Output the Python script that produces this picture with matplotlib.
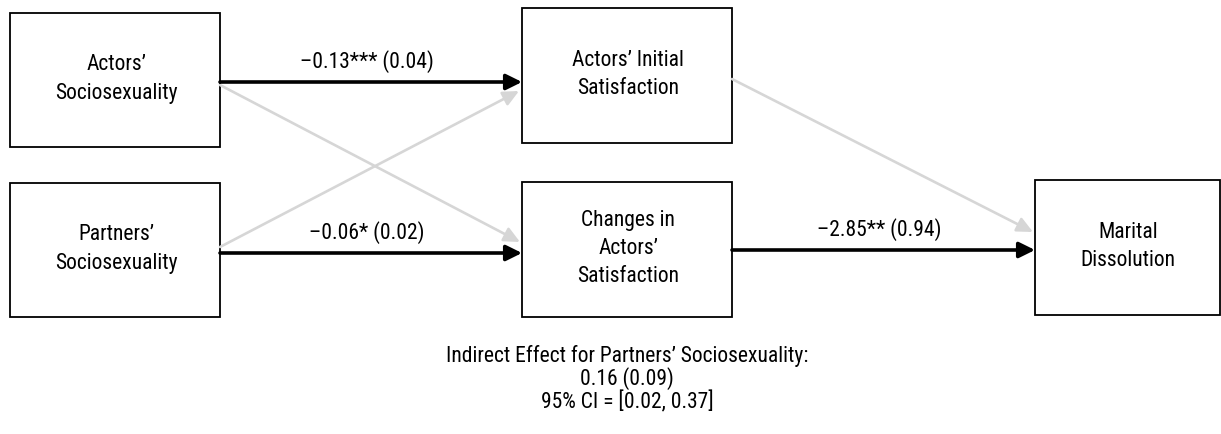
import matplotlib
matplotlib.use("Agg")
import matplotlib.pyplot as plt
from matplotlib.patches import Rectangle

# node labels
nodes = ["Actors’\nSociosexuality",
         "Partners’\nSociosexuality",
         "Actors’ Initial\nSatisfaction",
         "Changes in\nActors’\nSatisfaction",
         "Marital\nDissolution"]

# significant paths (from, to, label)
sig_paths = [(0, 2, "–0.13*** (0.04)"),
             (1, 3, "–0.06* (0.02)"),
             (3, 4, "–2.85** (0.94)")]

# non-significant paths (from, to)
ns_paths = [(0, 3), (1, 2), (2, 4)]

note_lines = ["Indirect Effect for Partners’ Sociosexuality:",
              "0.16 (0.09)",
              "95% CI = [0.02, 0.37]"]

# layout in pixels: left, top, right, bottom
boxes = [(10, 13, 220, 147),
         (10, 183, 220, 317),
         (522, 8, 732, 143),
         (522, 182, 732, 317),
         (1035, 180, 1219.5, 315)]

plt.rcParams['font.family'] = ['Roboto Condensed', 'Archivo Narrow', 'DejaVu Sans']
FS = 15.5

fig = plt.figure(figsize=(12.21, 4.34), dpi=100)
ax = fig.add_axes([0, 0, 1, 1])
ax.set_xlim(0, 1221)
ax.set_ylim(434, 0)
ax.axis('off')

for (l, t, r, b), name in zip(boxes, nodes):
    ax.add_patch(Rectangle((l, t), r - l, b - t, fill=False, ec='black', lw=1.3))
    ax.text((l + r) / 2 + 1, (t + b) / 2 - 1, name, ha='center', va='center',
            fontsize=FS, linespacing=1.45)

grey = '#d6d6d6'
# grey arrows: start and end points
ns_coords = {(0, 3): ((220, 85), (520, 242)),
             (1, 2): ((220, 247), (519, 91)),
             (2, 4): ((732, 79), (1033, 232))}
for key in ns_paths:
    s, e = ns_coords[key]
    ax.annotate('', xy=e, xytext=s,
                arrowprops=dict(arrowstyle='-|>,head_length=0.95,head_width=0.45',
                                color=grey, lw=1.9, shrinkA=0, shrinkB=0))

arrow_y = {0: 82, 1: 253, 3: 250}
for a, b, lab in sig_paths:
    y = arrow_y[a]
    x0 = boxes[a][2]
    x1 = boxes[b][0]
    ax.annotate('', xy=(x1, y), xytext=(x0, y),
                arrowprops=dict(arrowstyle='-|>,head_length=0.95,head_width=0.47',
                                color='black', lw=2.6, shrinkA=0, shrinkB=0))
    ax.text((x0 + x1) / 2 - 4, y - 20, lab,
            ha='center', va='center', fontsize=FS)

for i, line in enumerate(note_lines):
    ax.text(627, 356 + i * 23, line, ha='center', va='center', fontsize=FS)

fig.savefig('out.png', dpi=100)
